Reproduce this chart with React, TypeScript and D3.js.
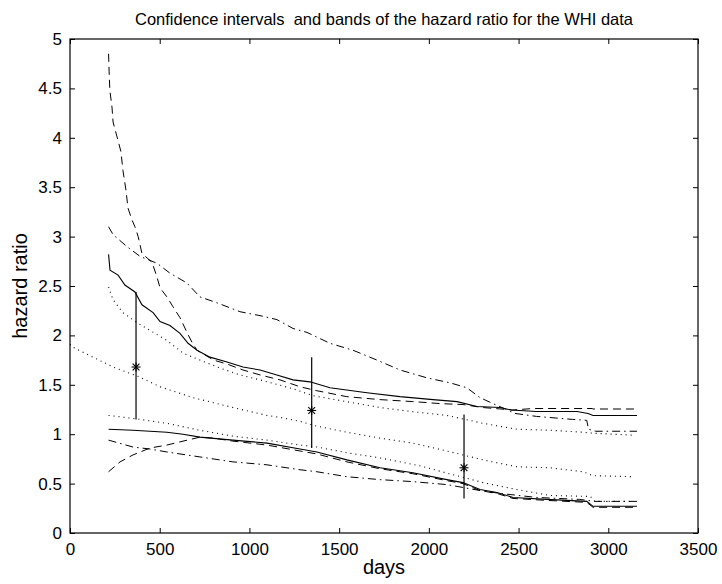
import React, { useRef, useEffect } from 'react';
import * as d3 from 'd3';

type Pt = [number, number];

// curves: [days, hazard ratio]
const upperSolid: Pt[] = [
  [215, 2.82], [223, 2.66], [268, 2.61], [306, 2.51], [362, 2.44], [401, 2.31], [463, 2.23],
  [502, 2.14], [557, 2.1], [613, 2.02], [658, 1.92], [708, 1.85], [780, 1.78], [875, 1.73],
  [964, 1.68], [1059, 1.65], [1153, 1.6], [1243, 1.55], [1337, 1.53], [1449, 1.47], [1655, 1.42],
  [1839, 1.38], [2023, 1.35], [2157, 1.33], [2268, 1.28], [2396, 1.27], [2460, 1.245], [2600, 1.23],
  [2826, 1.23], [2887, 1.21], [2915, 1.19], [3160, 1.19],
];
const upperDashed: Pt[] = [
  [215, 4.85], [218, 4.67], [222, 4.48], [234, 4.31], [240, 4.16], [262, 4.01], [284, 3.86],
  [295, 3.67], [312, 3.47], [323, 3.29], [345, 3.17], [362, 3.1], [380, 3.0], [401, 2.83],
  [457, 2.74], [485, 2.59], [502, 2.48], [540, 2.39], [574, 2.29], [613, 2.18], [652, 2.03],
  [680, 1.93], [708, 1.85], [800, 1.75], [875, 1.71], [964, 1.65], [1059, 1.6], [1170, 1.55],
  [1282, 1.48], [1376, 1.44], [1543, 1.38], [1728, 1.35], [1911, 1.33], [2062, 1.31], [2190, 1.3],
  [2300, 1.27], [2469, 1.245], [2580, 1.26], [2910, 1.26], [2915, 1.255], [3160, 1.255],
];
const upperDashDot: Pt[] = [
  [215, 3.1], [240, 3.02], [317, 2.9], [390, 2.8], [485, 2.73], [557, 2.63], [652, 2.53],
  [724, 2.39], [819, 2.33], [947, 2.24], [1059, 2.2], [1153, 2.16], [1243, 2.07], [1321, 2.03],
  [1449, 1.92], [1577, 1.85], [1711, 1.75], [1839, 1.65], [1990, 1.57], [2118, 1.52], [2212, 1.47],
  [2285, 1.37], [2357, 1.31], [2420, 1.26], [2480, 1.21], [2600, 1.18], [2800, 1.15], [2880, 1.14],
  [2890, 1.05], [2930, 1.03], [3160, 1.03],
];
const upperDotted: Pt[] = [
  [215, 2.49], [240, 2.36], [295, 2.23], [373, 2.13], [446, 2.05], [540, 1.95], [630, 1.82],
  [724, 1.75], [836, 1.67], [947, 1.6], [1059, 1.55], [1243, 1.46], [1354, 1.39], [1540, 1.33],
  [1728, 1.27], [1900, 1.23], [2100, 1.19], [2302, 1.11], [2491, 1.05], [2675, 1.04], [2859, 1.02],
  [2915, 1.01], [3138, 0.99],
];
const middleDotted: Pt[] = [
  [0, 1.91], [17, 1.88], [128, 1.78], [240, 1.68], [373, 1.59], [502, 1.48], [686, 1.37],
  [908, 1.27], [1098, 1.19], [1170, 1.17], [1282, 1.13], [1354, 1.09], [1543, 1.02], [1728, 0.96],
  [1911, 0.91], [2100, 0.83], [2190, 0.79], [2302, 0.74], [2491, 0.67], [2675, 0.66], [2859, 0.62],
  [2915, 0.58], [3138, 0.57],
];
const lowerDotted: Pt[] = [
  [215, 1.19], [351, 1.16], [540, 1.11], [724, 1.04], [908, 0.98], [1098, 0.94], [1282, 0.89],
  [1376, 0.87], [1550, 0.81], [1728, 0.76], [1950, 0.68], [2135, 0.59], [2302, 0.51], [2491, 0.44],
  [2675, 0.38], [2900, 0.37], [2925, 0.32], [3138, 0.32],
];
const lowerSolid: Pt[] = [
  [215, 1.05], [351, 1.04], [540, 1.02], [630, 1.0], [724, 0.97], [908, 0.94], [1098, 0.91],
  [1282, 0.85], [1376, 0.82], [1543, 0.74], [1728, 0.66], [1911, 0.61], [2100, 0.54], [2190, 0.51],
  [2285, 0.44], [2380, 0.41], [2469, 0.36], [2658, 0.34], [2880, 0.32], [2915, 0.27], [3160, 0.27],
];
const lowerDashed: Pt[] = [
  [215, 0.62], [279, 0.72], [351, 0.79], [446, 0.86], [540, 0.89], [630, 0.93], [724, 0.97],
  [800, 0.96], [908, 0.93], [1098, 0.89], [1282, 0.83], [1376, 0.8], [1543, 0.72], [1728, 0.65],
  [1911, 0.6], [2100, 0.53], [2190, 0.5], [2285, 0.43], [2380, 0.4], [2469, 0.35], [2658, 0.33],
  [2880, 0.31], [2915, 0.26], [3160, 0.26],
];
const lowerDashDot: Pt[] = [
  [215, 0.94], [351, 0.87], [446, 0.85], [540, 0.82], [724, 0.77], [908, 0.72], [1098, 0.69],
  [1282, 0.64], [1376, 0.62], [1543, 0.57], [1728, 0.54], [1911, 0.52], [2100, 0.49], [2285, 0.43],
  [2400, 0.4], [2600, 0.36], [2840, 0.34], [2925, 0.32], [3160, 0.32],
];

// pointwise intervals with star markers
const intervalDays = [368, 1347, 2196];
const intervalLow = [1.15, 0.86, 0.35];
const intervalHigh = [2.44, 1.78, 1.2];
const intervalMid = [1.68, 1.24, 0.66];

const xTicks = [0, 500, 1000, 1500, 2000, 2500, 3000, 3500];
const yTicks = [0, 0.5, 1, 1.5, 2, 2.5, 3, 3.5, 4, 4.5, 5];

const App = () => {
  const svgRef = useRef<SVGSVGElement>(null);

  useEffect(() => {
    const root = d3.select(svgRef.current);
    root.selectAll('*').remove();

    const width = 722;
    const height = 584;
    const margin = { top: 39, right: 24, bottom: 51, left: 70 };
    const w = width - margin.left - margin.right;
    const h = height - margin.top - margin.bottom;
    const font = 'Liberation Sans, Arial, Helvetica, sans-serif';

    root.attr('width', width).attr('height', height);
    root.append('rect').attr('width', width).attr('height', height).attr('fill', '#fff');

    const svg = root.append('g').attr('transform', `translate(${margin.left},${margin.top})`);

    const x = d3.scaleLinear().domain([0, 3500]).range([0, w]);
    const y = d3.scaleLinear().domain([0, 5]).range([h, 0]);

    const styleAxis = (g: any, labels: boolean) => {
      g.select('.domain').remove();
      g.selectAll('line').attr('stroke', '#000').attr('stroke-width', 1);
      g.selectAll('text')
        .attr('fill', labels ? '#000' : 'none')
        .style('font-family', font)
        .style('font-size', '17px');
    };

    svg.append('g')
      .attr('transform', `translate(0,${h})`)
      .call(d3.axisBottom(x).tickValues(xTicks).tickSizeInner(-5).tickSizeOuter(0).tickPadding(10).tickFormat(d3.format('d')))
      .call((g: any) => styleAxis(g, true));
    svg.append('g')
      .call(d3.axisTop(x).tickValues(xTicks).tickSizeInner(-5).tickSizeOuter(0).tickFormat(() => ''))
      .call((g: any) => styleAxis(g, false));
    svg.append('g')
      .call(d3.axisLeft(y).tickValues(yTicks).tickSizeInner(-5).tickSizeOuter(0).tickPadding(8).tickFormat(d3.format('')))
      .call((g: any) => styleAxis(g, true));
    svg.append('g')
      .attr('transform', `translate(${w},0)`)
      .call(d3.axisRight(y).tickValues(yTicks).tickSizeInner(-5).tickSizeOuter(0).tickFormat(() => ''))
      .call((g: any) => styleAxis(g, false));

    svg.append('rect')
      .attr('width', w)
      .attr('height', h)
      .attr('fill', 'none')
      .attr('stroke', '#000')
      .attr('stroke-width', 1.2);

    const line = d3.line<Pt>().x((d) => x(d[0])).y((d) => y(d[1]));

    const curves: { data: Pt[]; dash: string | null; width: number }[] = [
      { data: upperDotted, dash: '1,4', width: 1.1 },
      { data: middleDotted, dash: '1,4', width: 1.1 },
      { data: lowerDotted, dash: '1,4', width: 1.1 },
      { data: upperDashDot, dash: '8,4,1.5,4', width: 1 },
      { data: lowerDashDot, dash: '8,4,1.5,4', width: 1 },
      { data: upperDashed, dash: '8,5', width: 1 },
      { data: lowerDashed, dash: '8,5', width: 1 },
      { data: upperSolid, dash: null, width: 1.1 },
      { data: lowerSolid, dash: null, width: 1.1 },
    ];

    curves.forEach((c) => {
      svg.append('path')
        .datum(c.data)
        .attr('d', line)
        .attr('fill', 'none')
        .attr('stroke', '#000')
        .attr('stroke-width', c.width)
        .attr('stroke-dasharray', c.dash);
    });

    // vertical intervals and asterisks
    intervalDays.forEach((d, i) => {
      const cx = x(d);
      svg.append('line')
        .attr('x1', cx).attr('x2', cx)
        .attr('y1', y(intervalLow[i])).attr('y2', y(intervalHigh[i]))
        .attr('stroke', '#000').attr('stroke-width', 1.2);
      const cy = y(intervalMid[i]);
      const r = 4.5;
      const star = svg.append('g').attr('transform', `translate(${cx},${cy})`);
      [[-r, 0, r, 0], [0, -r, 0, r], [-r * 0.75, -r * 0.75, r * 0.75, r * 0.75], [-r * 0.75, r * 0.75, r * 0.75, -r * 0.75]]
        .forEach(([x1, y1, x2, y2]) => {
          star.append('line')
            .attr('x1', x1).attr('y1', y1).attr('x2', x2).attr('y2', y2)
            .attr('stroke', '#000').attr('stroke-width', 1.1);
        });
    });

    // labels
    root.append('text')
      .attr('x', margin.left + w / 2)
      .attr('y', 25)
      .attr('text-anchor', 'middle')
      .style('font-family', font)
      .style('font-size', '16.5px')
      .style('white-space', 'pre')
      .text('Confidence intervals  and bands of the hazard ratio for the WHI data');

    root.append('text')
      .attr('x', margin.left + w / 2)
      .attr('y', 574)
      .attr('text-anchor', 'middle')
      .style('font-family', font)
      .style('font-size', '20px')
      .text('days');

    root.append('text')
      .attr('transform', `translate(27,${margin.top + h / 2}) rotate(-90)`)
      .attr('text-anchor', 'middle')
      .style('font-family', font)
      .style('font-size', '20px')
      .text('hazard ratio');
  }, []);

  return <svg ref={svgRef} style={{ position: 'absolute', left: 0, top: 0 }} />;
};

export default App;
